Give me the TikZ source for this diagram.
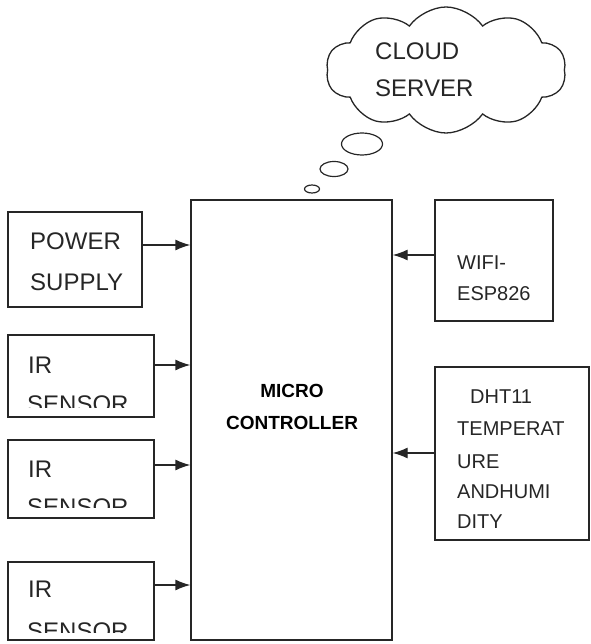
\documentclass[tikz,border=0pt]{standalone}
\usepackage{fontspec}
\setmainfont{Liberation Sans}
\usetikzlibrary{shapes.geometric,shapes.symbols,arrows.meta}

\begin{document}
\begin{tikzpicture}[x=1pt,y=-1pt]
	\tikzstyle{blk}=[rectangle,draw=black!85,line width=1.3pt,inner sep=0pt]
	\tikzstyle{big}=[font=\fontsize{24}{28}\selectfont,inner sep=0pt,anchor=base west,text=black!85]
	\tikzstyle{small}=[font=\fontsize{20}{24}\selectfont,inner sep=0pt,anchor=base west,text=black!85]
	\tikzstyle{bold}=[font=\fontsize{19}{23}\selectfont\bfseries,inner sep=0pt,anchor=base]
	\tikzstyle{bubble}=[ellipse,draw=black!85,line width=1.2pt,inner sep=0pt]

	\useasboundingbox (0,0) rectangle (590,644);

	% blocks
	\node[blk,minimum width=134,minimum height=95] (pwr) at (75,259.5) {};
	\node[blk,minimum width=146,minimum height=82] (ir1) at (81,376) {};
	\node[blk,minimum width=146,minimum height=78] (ir2) at (81,479) {};
	\node[blk,minimum width=146,minimum height=78] (ir3) at (81,601) {};
	\node[blk,minimum width=201,minimum height=440] (mcu) at (291.5,420) {};
	\node[blk,minimum width=118,minimum height=121] (wifi) at (494,260.5) {};
	\node[blk,minimum width=154,minimum height=173] (dht) at (512,453.5) {};

	% cloud and bubbles
	\node[cloud,draw=black!85,line width=1.3pt,cloud puffs=10,cloud puff arc=110,
	aspect=1.9,minimum width=240,minimum height=126] (srv) at (446,70) {};
	\node[bubble,minimum width=41,minimum height=22] (b1) at (362,144) {};
	\node[bubble,minimum width=28,minimum height=15] (b2) at (334,169) {};
	\node[bubble,minimum width=15,minimum height=8] (b3) at (312,189) {};

	% texts
	\node[big] (srv1) at (375,60) {CLOUD};
	\node[big] (srv2) at (375,97) {SERVER};
	\node[big] (pwr1) at (30,249) {POWER};
	\node[big] (pwr2) at (30,290) {SUPPLY};
	\node[big] (ir1a) at (28,373) {IR};
	\node[big] (ir2a) at (28,477) {IR};
	\node[big] (ir3a) at (28,597) {IR};
	\begin{scope}
		\clip (10,380) rectangle (150,407);
		\node[big] (ir1b) at (27,412) {SENSOR};
	\end{scope}
	\begin{scope}
		\clip (10,490) rectangle (150,507);
		\node[big] (ir2b) at (27,515) {SENSOR};
	\end{scope}
	\begin{scope}
		\clip (10,610) rectangle (150,632);
		\node[big] (ir3b) at (27,639) {SENSOR};
	\end{scope}
	\node[bold] (mcu1) at (292,397) {MICRO};
	\node[bold] (mcu2) at (292,429) {CONTROLLER};
	\node[small] (wifi1) at (457,269) {WIFI-};
	\node[small] (wifi2) at (457,300) {ESP826};
	\node[small] (dht1) at (470,403) {DHT11};
	\node[small] (dht2) at (457,435) {TEMPERAT};
	\node[small] (dht3) at (457,468) {URE};
	\node[small] (dht4) at (457,498) {ANDHUMI};
	\node[small] (dht5) at (457,528) {DITY};

	\tikzstyle{arr}=[-{Latex[length=15pt,width=11pt]},line width=1.3pt,draw=black!85]

	\draw[arr] (pwr.east |- 0,245) -- (mcu.west |- 0,245);
	\draw[arr] (ir1.east |- 0,365) -- (mcu.west |- 0,365);
	\draw[arr] (ir2.east |- 0,465) -- (mcu.west |- 0,465);
	\draw[arr] (ir3.east |- 0,585) -- (mcu.west |- 0,585);
	\draw[arr] (wifi.west |- 0,255) -- (mcu.east |- 0,255);
	\draw[arr] (dht.west |- 0,453) -- (mcu.east |- 0,453);
\end{tikzpicture}
\end{document}
